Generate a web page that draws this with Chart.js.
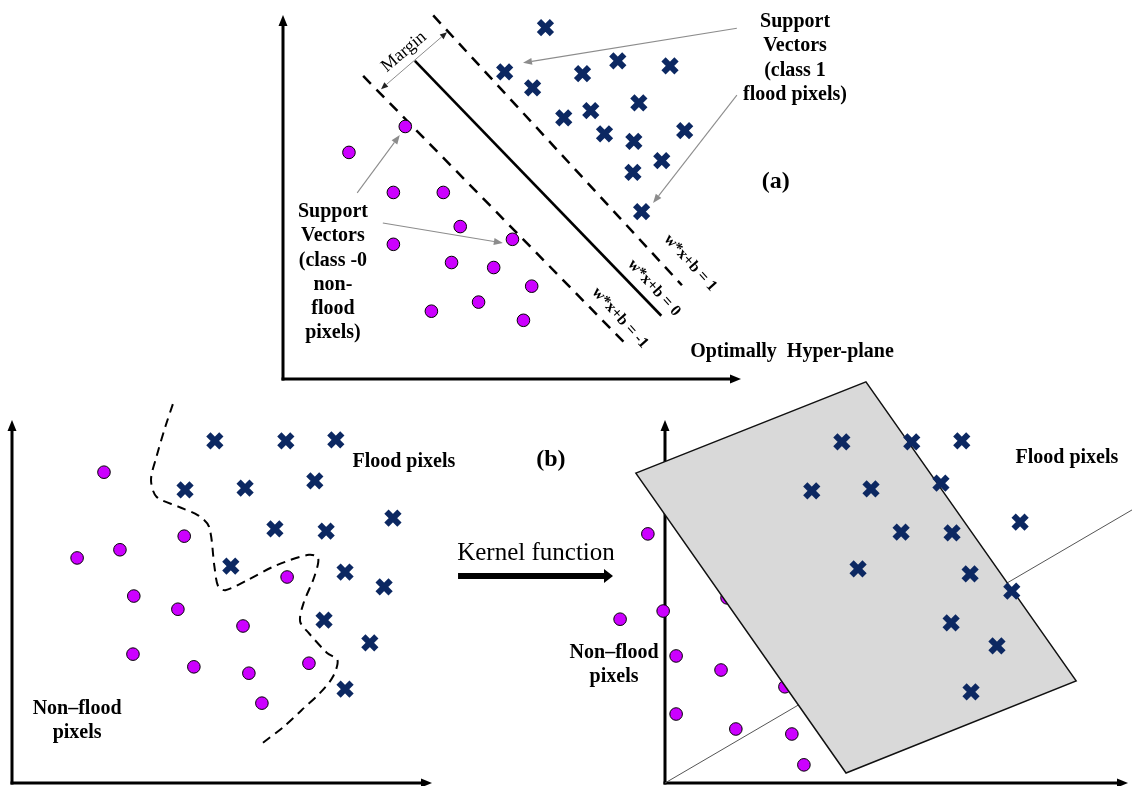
<!DOCTYPE html>
<html>
<head>
<meta charset="utf-8">
<title>SVM flood / non-flood classification</title>
<script src="https://cdn.jsdelivr.net/npm/chart.js@4.4.1/dist/chart.umd.min.js"></script>
<style>
  html, body { margin: 0; padding: 0; background: #fff; }
  #wrap { position: relative; width: 1132px; height: 786px; overflow: hidden; background: #fff; }
  #wrap canvas { position: absolute; left: 0; top: 0; }
</style>
</head>
<body>
<div id="wrap">
  <canvas id="panelA" width="1132" height="786"></canvas>
  <canvas id="panelB" width="1132" height="786"></canvas>
  <canvas id="panelC" width="1132" height="786"></canvas>
</div>
<script>
// ---------- (a) linear SVM in the input space ----------
const A_FLOOD = [[5.73,7.72],[4.84,6.75],[5.45,6.40],[6.54,6.71],[7.31,6.99],[8.45,6.88],[7.77,6.07],[6.72,5.90],
                 [6.13,5.74],[7.02,5.39],[7.66,5.22],[8.77,5.46],[8.27,4.80],[7.64,4.54],[7.83,3.68]];
const A_NONFLOOD = [[2.67,5.55],[1.44,4.98],[2.41,4.10],[3.50,4.10],[3.87,3.35],[2.41,2.96],[5.01,3.07],
                    [3.68,2.56],[4.60,2.45],[5.43,2.04],[4.27,1.69],[3.24,1.49],[5.25,1.29]];
const A_HYPERPLANE = [[2.88,6.99],[8.26,1.39]];     // w*x+b = 0
const A_MARGIN_POS = [[3.28,7.99],[8.71,2.06]];     // w*x+b = 1
const A_MARGIN_NEG = [[1.75,6.66],[7.53,0.72]];     // w*x+b = -1
const A_MARGIN_ARROW = [[2.14,6.37],[3.58,7.62]];
const A_POINTERS = [                                 // tail -> head
  [[9.91,7.71],[5.24,6.95]],
  [[9.91,6.24],[8.08,3.87]],
  [[1.62,4.09],[2.55,5.36]],
  [[2.18,3.43],[4.80,2.99]]
];

// ---------- (b) non-linear boundary in the input space ----------
const B_FLOOD = [[4.83,7.54],[6.52,7.54],[7.71,7.56],[4.12,6.46],[5.55,6.50],[7.21,6.66],[6.26,5.60],[7.48,5.55],
                 [9.07,5.84],[5.21,4.78],[7.93,4.65],[8.86,4.32],[7.43,3.59],[8.52,3.09],[7.93,2.07]];
const B_NONFLOOD = [[2.19,6.85],[4.10,5.44],[2.57,5.14],[1.55,4.96],[6.55,4.54],[2.90,4.12],[3.95,3.83],
                    [5.50,3.46],[2.88,2.84],[4.33,2.56],[5.64,2.42],[7.07,2.64],[5.95,1.76]];
const B_BOUNDARY = [[3.83,8.35],[3.65,7.85],[3.44,7.19],[3.31,6.68],[3.44,6.31],[3.96,6.09],[4.43,5.90],
                    [4.69,5.65],[4.82,4.77],[4.91,4.33],[5.08,4.25],[5.60,4.47],[6.30,4.80],[7.07,5.03],
                    [7.29,4.96],[7.20,4.55],[6.94,3.96],[6.86,3.56],[7.07,3.30],[7.51,2.86],[7.75,2.71],
                    [7.64,2.34],[7.33,1.98],[6.90,1.61],[6.47,1.24],[5.95,0.87]];
const B_KERNEL_ARROW = [[10.62,4.56],[14.31,4.56]];

// ---------- (b) separating plane in the feature space ----------
const C_FLOOD = [[3.82,7.52],[5.33,7.52],[6.41,7.54],[3.17,6.44],[4.45,6.48],[5.96,6.61],[7.67,5.75],[5.10,5.53],
                 [6.20,5.51],[4.17,4.72],[6.59,4.61],[7.49,4.23],[6.18,3.53],[7.17,3.02],[6.61,2.01]];
const C_NONFLOOD = [[-0.37,5.49],[-0.04,3.79],[-0.97,3.61],[1.34,4.08],[0.24,2.80],[1.21,2.49],[2.59,2.12],
                    [0.24,1.52],[1.53,1.19],[2.74,1.08],[3.00,0.40]];
const C_PLANE = [[-0.63,6.83],[4.34,8.84],[8.88,2.25],[3.91,0.22]];
const C_PROJECTION = [[10.09,6.02],[0,0]];

// ---------- styling ----------
const SERIF = '"Liberation Serif", "Times New Roman", serif';
const NAVY = '#0c2862';
const VIOLET = '#cc00ff';
const AXIS = { width: 3, color: '#000', head: 11, headW: 9 };
const POINTER = { width: 1.1, color: '#8c8c8c', head: 9, headW: 7 };

const toPts = arr => arr.map(([x, y]) => ({ x, y }));

const crossSet = data => ({
  type: 'scatter', data: toPts(data), pointStyle: 'crossRot', pointRadius: 9.2, pointBorderWidth: 6,
  pointBorderColor: NAVY, pointBackgroundColor: NAVY, clip: false
});
const dotSet = data => ({
  type: 'scatter', data: toPts(data), pointStyle: 'circle', pointRadius: 6.3, pointBorderWidth: 1,
  pointBorderColor: '#000', pointBackgroundColor: VIOLET, clip: false
});
const lineSet = (data, extra) => Object.assign({
  type: 'line', data: toPts(data), pointRadius: 0, borderColor: '#000', borderWidth: 2.5,
  fill: false, clip: false, tension: 0
}, extra);

function toPx(chart, p) {
  return [chart.scales.x.getPixelForValue(p[0]), chart.scales.y.getPixelForValue(p[1])];
}

function arrowHead(ctx, x, y, a, o) {
  const bx = x - o.head * Math.cos(a), by = y - o.head * Math.sin(a);
  ctx.beginPath();
  ctx.moveTo(x, y);
  ctx.lineTo(bx + o.headW / 2 * Math.sin(a), by - o.headW / 2 * Math.cos(a));
  ctx.lineTo(bx - o.headW / 2 * Math.sin(a), by + o.headW / 2 * Math.cos(a));
  ctx.closePath();
  ctx.fill();
  return [bx, by];
}

function arrow(ctx, x1, y1, x2, y2, o, both) {
  const a = Math.atan2(y2 - y1, x2 - x1);
  ctx.save();
  ctx.strokeStyle = o.color;
  ctx.fillStyle = o.headColor || o.color;
  ctx.lineWidth = o.width;
  const [bx, by] = arrowHead(ctx, x2, y2, a, o);
  let sx = x1, sy = y1;
  if (both) [sx, sy] = arrowHead(ctx, x1, y1, a + Math.PI, o);
  ctx.beginPath();
  ctx.moveTo(sx, sy);
  ctx.lineTo(bx, by);
  ctx.stroke();
  ctx.restore();
}

// axes start at the data origin and run to the top / right edge of the plot area
function drawAxes(chart) {
  const { ctx, chartArea: { right, top } } = chart;
  const [ox, oy] = toPx(chart, [0, 0]);
  arrow(ctx, ox, oy + 1.5, ox, top, AXIS);
  arrow(ctx, ox - 1.5, oy, right, oy, AXIS);
}

function text(ctx, str, x, y, o) {
  ctx.save();
  ctx.font = (o.bold ? 'bold ' : '') + o.size + 'px ' + SERIF;
  ctx.fillStyle = '#000';
  ctx.textAlign = o.align || 'center';
  ctx.textBaseline = 'middle';
  ctx.translate(x, y);
  if (o.angle) ctx.rotate(o.angle * Math.PI / 180);
  ctx.fillText(str, 0, 0);
  ctx.restore();
}

function textBlock(chart, lines, pos, o) {
  const [x, y] = toPx(chart, pos);
  lines.forEach((s, i) => text(chart.ctx, s, x, y + i * (o.lead || 0), o));
}

function baseOptions(pad, xMin) {
  return {
    responsive: false, animation: false, devicePixelRatio: 1, events: [],
    layout: { padding: pad, autoPadding: false },
    plugins: { legend: { display: false }, tooltip: { enabled: false } },
    scales: {
      x: { type: 'linear', min: xMin || 0, max: 10, display: false },
      y: { type: 'linear', min: 0, max: 8, display: false }
    }
  };
}

// ---------- panel (a) ----------
new Chart(document.getElementById('panelA'), {
  type: 'scatter',
  data: {
    datasets: [
      crossSet(A_FLOOD),
      dotSet(A_NONFLOOD),
      lineSet(A_HYPERPLANE, { borderWidth: 2.6 }),
      lineSet(A_MARGIN_POS, { borderDash: [11, 8] }),
      lineSet(A_MARGIN_NEG, { borderDash: [11, 8] })
    ]
  },
  options: baseOptions({ left: 283, right: 391, top: 15, bottom: 407 }),
  plugins: [{
    id: 'panelADecor',
    beforeDatasetsDraw(chart) { drawAxes(chart); },
    afterDraw(chart) {
      const ctx = chart.ctx;
      A_POINTERS.forEach(([t, h]) => {
        const [x1, y1] = toPx(chart, t), [x2, y2] = toPx(chart, h);
        arrow(ctx, x1, y1, x2, y2, POINTER);
      });
      const [m1x, m1y] = toPx(chart, A_MARGIN_ARROW[0]), [m2x, m2y] = toPx(chart, A_MARGIN_ARROW[1]);
      arrow(ctx, m1x, m1y, m2x, m2y, { width: 1, color: '#8c8c8c', headColor: '#222', head: 7, headW: 6 }, true);

      textBlock(chart, ['Margin'], [2.64, 7.19], { size: 18, angle: -40 });
      textBlock(chart, ['Support', 'Vectors', '(class 1', 'flood pixels)'], [11.18, 7.85], { size: 20, bold: true, lead: 24.3 });
      textBlock(chart, ['(a)'], [10.76, 4.33], { size: 24, bold: true });
      textBlock(chart, ['Support', 'Vectors', '(class -0', 'non-', 'flood', 'pixels)'], [1.09, 3.67], { size: 20, bold: true, lead: 24.2 });
      textBlock(chart, ['Optimally  Hyper-plane'], [8.89, 0.59], { size: 20, bold: true, align: 'left' });
      textBlock(chart, ['w*x+b = 1'], [8.89, 2.55], { size: 16, bold: true, angle: 48 });
      textBlock(chart, ['w*x+b = 0'], [8.10, 2.00], { size: 16, bold: true, angle: 48 });
      textBlock(chart, ['w*x+b = -1'], [7.36, 1.34], { size: 16, bold: true, angle: 48 });
    }
  }]
});

// ---------- panel (b), input space ----------
new Chart(document.getElementById('panelB'), {
  type: 'scatter',
  data: {
    datasets: [
      crossSet(B_FLOOD),
      dotSet(B_NONFLOOD),
      lineSet(B_BOUNDARY, { borderWidth: 2, borderDash: [9, 6], tension: 0.3 })
    ]
  },
  options: baseOptions({ left: 12, right: 700, top: 420, bottom: 3 }),
  plugins: [{
    id: 'panelBDecor',
    beforeDatasetsDraw(chart) { drawAxes(chart); },
    afterDraw(chart) {
      const [k1x, k1y] = toPx(chart, B_KERNEL_ARROW[0]), [k2x, k2y] = toPx(chart, B_KERNEL_ARROW[1]);
      arrow(chart.ctx, k1x, k1y, k2x, k2y, { width: 6, color: '#000', head: 9, headW: 14 });
      textBlock(chart, ['Kernel function'], [10.6, 5.07], { size: 25, align: 'left' });
      textBlock(chart, ['Flood pixels'], [9.33, 7.07], { size: 20, bold: true });
      textBlock(chart, ['(b)'], [12.83, 7.12], { size: 24, bold: true });
      textBlock(chart, ['Non\u2013flood', 'pixels'], [1.55, 1.63], { size: 20, bold: true, lead: 24 });
    }
  }]
});

// ---------- panel (b), feature space ----------
// x runs from -1.2 so the points left of the vertical axis still fall inside the plot area
new Chart(document.getElementById('panelC'), {
  type: 'scatter',
  data: {
    datasets: [
      crossSet(C_FLOOD),
      lineSet(C_PROJECTION, { borderWidth: 1, borderColor: '#555' }),
      dotSet(C_NONFLOOD)
    ]
  },
  options: baseOptions({ left: 665 - 1.2 * 46.3, right: 4, top: 420, bottom: 3 }, -1.2),
  plugins: [{
    id: 'panelCDecor',
    beforeDatasetsDraw(chart) { drawAxes(chart); },
    beforeDatasetDraw(chart, args) {
      if (args.index !== 0) return;
      const ctx = chart.ctx;
      ctx.save();
      ctx.beginPath();
      C_PLANE.forEach((p, i) => {
        const [x, y] = toPx(chart, p);
        if (i === 0) ctx.moveTo(x, y); else ctx.lineTo(x, y);
      });
      ctx.closePath();
      ctx.fillStyle = '#d9d9d9';
      ctx.fill();
      ctx.lineWidth = 1.5;
      ctx.strokeStyle = '#111';
      ctx.stroke();
      ctx.restore();
    },
    afterDraw(chart) {
      textBlock(chart, ['Flood pixels'], [8.68, 7.16], { size: 20, bold: true });
      textBlock(chart, ['Non\u2013flood', 'pixels'], [-1.10, 2.87], { size: 20, bold: true, lead: 24 });
    }
  }]
});
</script>
</body>
</html>
